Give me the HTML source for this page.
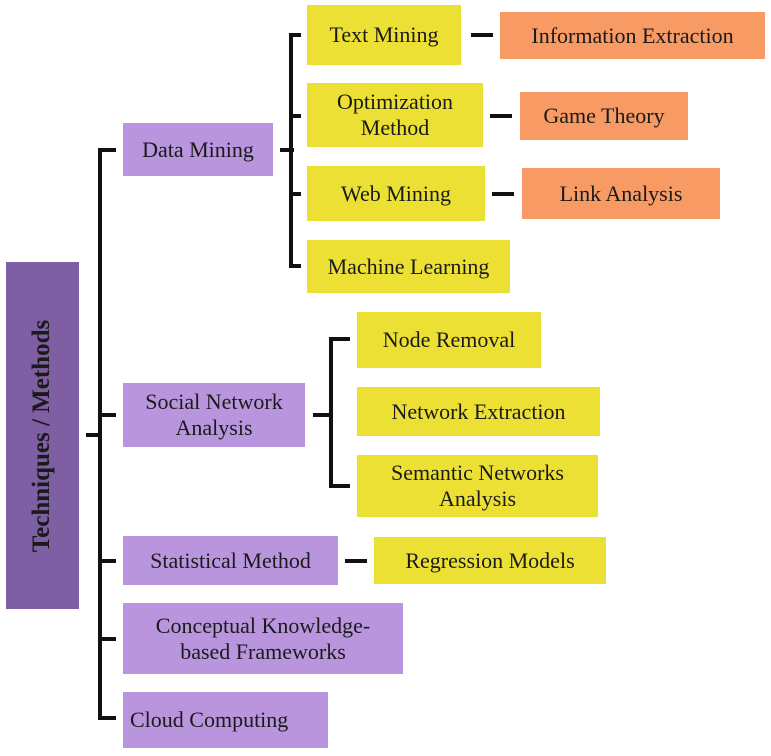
<!DOCTYPE html>
<html><head><meta charset="utf-8"><style>
body{margin:0;width:771px;height:756px;background:#fff;position:relative;overflow:hidden;font-family:"Liberation Serif",serif;}
.b{position:absolute;display:flex;align-items:center;justify-content:center;text-align:center;font-size:22px;line-height:26px;color:#1a1a1a;}
.p{background:#b995dd;}.y{background:#ebe033;}.o{background:#f79a64;}
.l{position:absolute;background:#111;}
</style></head><body>
<div class="b" style="left:6px;top:262px;width:73px;height:347px;background:#7f5fa3;"><div style="transform:rotate(-90deg);white-space:nowrap;font-weight:bold;font-size:25px;">Techniques / Methods</div></div>
<div class="l" style="left:86px;top:433px;width:16px;height:4px"></div>
<div class="l" style="left:98px;top:148px;width:4px;height:572px"></div>
<div class="l" style="left:98px;top:148px;width:18px;height:4px"></div>
<div class="l" style="left:98px;top:413px;width:18px;height:4px"></div>
<div class="l" style="left:98px;top:559px;width:18px;height:4px"></div>
<div class="l" style="left:98px;top:637px;width:18px;height:4px"></div>
<div class="l" style="left:98px;top:716px;width:18px;height:4px"></div>
<div class="b p" style="left:123px;top:123px;width:150px;height:53px">Data Mining</div>
<div class="b p" style="left:123px;top:383px;width:182px;height:64px">Social Network<br>Analysis</div>
<div class="b p" style="left:123px;top:536px;width:215px;height:49px">Statistical Method</div>
<div class="b p" style="left:123px;top:603px;width:280px;height:71px">Conceptual Knowledge-<br>based Frameworks</div>
<div class="b p" style="left:123px;top:692px;width:205px;height:56px;justify-content:flex-start;padding-left:7px;box-sizing:border-box">Cloud Computing</div>
<div class="l" style="left:280px;top:148px;width:14px;height:4px"></div>
<div class="l" style="left:289px;top:33px;width:4px;height:235px"></div>
<div class="l" style="left:289px;top:33px;width:12px;height:4px"></div>
<div class="l" style="left:289px;top:114px;width:12px;height:4px"></div>
<div class="l" style="left:289px;top:192px;width:12px;height:4px"></div>
<div class="l" style="left:289px;top:264px;width:12px;height:4px"></div>
<div class="b y" style="left:307px;top:5px;width:154px;height:60px">Text Mining</div>
<div class="b y" style="left:307px;top:83px;width:176px;height:64px">Optimization<br>Method</div>
<div class="b y" style="left:307px;top:166px;width:178px;height:55px">Web Mining</div>
<div class="b y" style="left:307px;top:240px;width:203px;height:53px">Machine Learning</div>
<div class="l" style="left:471px;top:33px;width:22px;height:4px"></div>
<div class="l" style="left:490px;top:114px;width:22px;height:4px"></div>
<div class="l" style="left:492px;top:192px;width:22px;height:4px"></div>
<div class="b o" style="left:500px;top:12px;width:265px;height:47px">Information Extraction</div>
<div class="b o" style="left:520px;top:92px;width:168px;height:48px">Game Theory</div>
<div class="b o" style="left:522px;top:168px;width:198px;height:51px">Link Analysis</div>
<div class="l" style="left:313px;top:413px;width:20px;height:4px"></div>
<div class="l" style="left:329px;top:337px;width:4px;height:151px"></div>
<div class="l" style="left:329px;top:337px;width:21px;height:4px"></div>
<div class="l" style="left:329px;top:484px;width:21px;height:4px"></div>
<div class="b y" style="left:357px;top:312px;width:184px;height:56px">Node Removal</div>
<div class="b y" style="left:357px;top:387px;width:243px;height:49px">Network Extraction</div>
<div class="b y" style="left:357px;top:455px;width:241px;height:62px">Semantic Networks<br>Analysis</div>
<div class="l" style="left:345px;top:559px;width:22px;height:4px"></div>
<div class="b y" style="left:374px;top:537px;width:232px;height:47px">Regression Models</div>
</body></html>
